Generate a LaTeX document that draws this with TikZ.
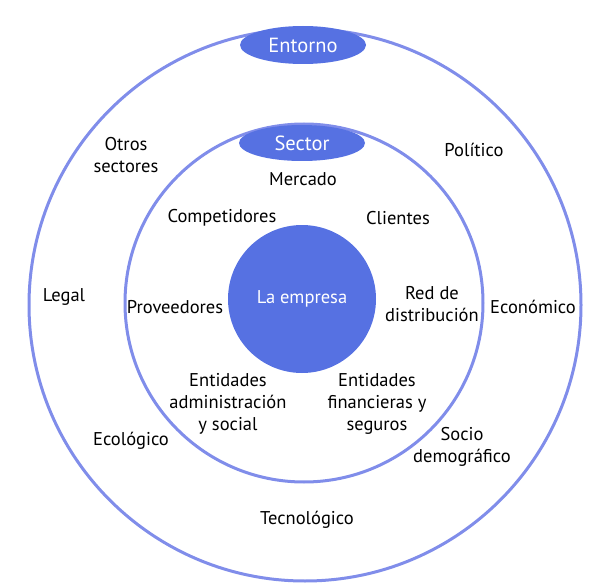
\documentclass[tikz,border=0pt]{standalone}
\usepackage{fontspec}
\setmainfont{PT Sans}
\definecolor{EmpBlue}{RGB}{86,113,226}
\definecolor{RingBlue}{RGB}{128,141,234}
\usepackage{tikz}
\usetikzlibrary{positioning,shapes.geometric}

\begin{document}
\begin{tikzpicture}[x=1pt, y=-1pt,
      ring/.style={circle, draw=RingBlue, line width=3pt, inner sep=0pt},
      t/.style={font=\fontsize{18.5}{22}\selectfont, align=center, text=black, inner sep=0pt},
      tag/.style={ellipse, fill=EmpBlue, draw=none, text=white, minimum width=126pt, minimum height=38pt, inner sep=0pt, font=\fontsize{20.5}{22}\selectfont}]
      \useasboundingbox (0,0) rectangle (590,586);
      % rings
      \node[ring, minimum size=552pt] (entorno) at (305,305) {};
      \node[ring, minimum size=358pt] (sector) at (304,303) {};
      \node[circle, fill=EmpBlue, minimum size=148pt, inner sep=0pt, t, text=white] (empresa) at (302,299) {La empresa};
      \node[tag] (lblentorno) at (303,45) {Entorno};
      \node[tag, minimum height=36pt] (lblsector) at (302,143) {Sector};
      % sector
      \node[t] (mercado) at (303,179) {Mercado};
      \node[t] (compet) at (222,218) {Competidores};
      \node[t] (clientes) at (398,218) {Clientes};
      \node[t] (proveed) at (175,307) {Proveedores};
      \node[t] (reddist) at (432,304) {Red de\\distribución};
      \node[t] (entadm) at (228,404) {Entidades\\administración\\y social};
      \node[t] (entfin) at (377,404) {Entidades\\financieras y\\seguros};
      % entorno
      \node[t] (otros) at (126,155) {Otros\\sectores};
      \node[t] (politico) at (474,150) {Político};
      \node[t] (legal) at (64,297) {Legal};
      \node[t] (economico) at (533,307) {Económico};
      \node[t] (ecologico) at (131,441) {Ecológico};
      \node[t] (socio) at (462,447) {Socio\\demográfico};
      \node[t] (tecno) at (307,520) {Tecnológico};
    \end{tikzpicture}
\end{document}
